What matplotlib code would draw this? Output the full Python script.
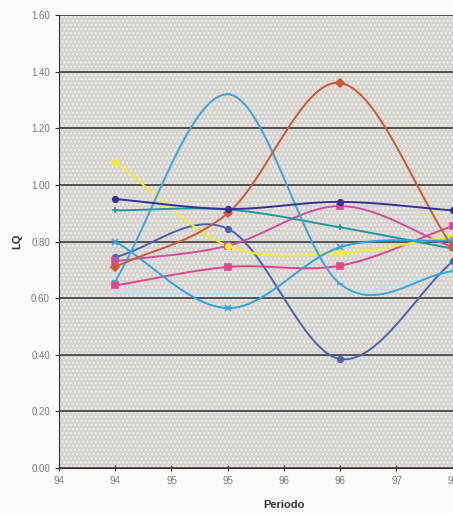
import numpy as np
import matplotlib
matplotlib.use('Agg')
import matplotlib.pyplot as plt
from matplotlib.patches import Rectangle
from matplotlib.ticker import MultipleLocator, FuncFormatter

# periodos y cocientes de localizacion (LQ) por serie
periodo = [94, 95, 96, 97]
lq_navy = [0.95, 0.915, 0.94, 0.91]
lq_naranja = [0.71, 0.90, 1.36, 0.78]
lq_celeste = [0.66, 1.32, 0.65, 0.695]
lq_celeste_x = [0.80, 0.565, 0.78, 0.805]
lq_verde = [0.91, 0.913, 0.85, 0.775]
lq_amarillo = [1.08, 0.785, 0.76, 0.82]
lq_rosa = [0.73, 0.785, 0.925, 0.78]
lq_rosa2 = [0.645, 0.71, 0.715, 0.855]
lq_azul = [0.745, 0.845, 0.385, 0.73]
lq_claro = [0.62, 0.615, 0.615, 0.69]

series = [
    (lq_claro, '#b8e2f4', None),
    (lq_azul, '#4a63b0', 'o'),
    (lq_rosa2, '#e0468f', 's'),
    (lq_rosa, '#cf4f9e', 's'),
    (lq_amarillo, '#f5ee2a', 'o'),
    (lq_verde, '#1f9aa0', '+'),
    (lq_celeste_x, '#2fa6dc', 'x'),
    (lq_celeste, '#3aa7db', '_'),
    (lq_naranja, '#cf5a32', 'D'),
    (lq_navy, '#35348f', 'o'),
]


def suavizar(x, y, n=40):
    # curva suavizada tipo Catmull-Rom entre los puntos
    x = np.asarray(x, float)
    y = np.asarray(y, float)
    px = np.concatenate([[2 * x[0] - x[1]], x, [2 * x[-1] - x[-2]]])
    py = np.concatenate([[2 * y[0] - y[1]], y, [2 * y[-1] - y[-2]]])
    xs, ys = [], []
    t = np.linspace(0, 1, n)
    for i in range(1, len(px) - 2):
        for p, out in ((px, xs), (py, ys)):
            p0, p1, p2, p3 = p[i - 1], p[i], p[i + 1], p[i + 2]
            out.append(0.5 * ((2 * p1) + (-p0 + p2) * t
                              + (2 * p0 - 5 * p1 + 4 * p2 - p3) * t ** 2
                              + (-p0 + 3 * p1 - 3 * p2 + p3) * t ** 3))
    return np.concatenate(xs), np.concatenate(ys)


fig = plt.figure(figsize=(4.53, 5.13), dpi=100)
fig.patch.set_facecolor('#fbfbfa')
ax = fig.add_axes([0.1302, 0.0877, 0.9934, 0.883])
ax.set_facecolor('#d6d2ce')
ax.add_patch(Rectangle((0, 0), 1, 1, transform=ax.transAxes, fill=False,
                       hatch='....', edgecolor='#f4f2f0', linewidth=0, zorder=0.5))
plt.rcParams['hatch.linewidth'] = 0.6

for vals, color, mk in series:
    sx, sy = suavizar(periodo, vals)
    ax.plot(sx, sy, color=color, lw=1.4, zorder=3)
    if mk:
        ax.plot(periodo, vals, ls='none', marker=mk, ms=4, color=color,
                mew=1.2, zorder=4)

ax.set_xlim(93.5, 97.5)
ax.set_ylim(0, 1.6)
ax.yaxis.set_major_locator(MultipleLocator(0.2))
ax.xaxis.set_major_locator(MultipleLocator(0.5))
ax.yaxis.set_major_formatter(FuncFormatter(lambda v, p: '%.2f' % v))
ax.xaxis.set_major_formatter(FuncFormatter(lambda v, p: '%d' % int(np.floor(v + 0.5))))
ax.grid(axis='y', color='#2e2e2e', lw=1.1, zorder=1)
ax.set_axisbelow(False)

for s in ['top', 'right']:
    ax.spines[s].set_visible(False)
ax.spines['left'].set_color('#333333')
ax.spines['bottom'].set_color('#333333')
ax.tick_params(axis='both', labelsize=7, colors='#333333', labelcolor='#777777',
               length=3, width=0.8)
ax.tick_params(axis='x', direction='inout', length=5, pad=3)
for lab in ax.get_xticklabels() + ax.get_yticklabels():
    lab.set_family('Liberation Sans')

ax.set_ylabel('LQ', fontsize=8, fontweight='bold', family='Liberation Sans',
              color='#333333', labelpad=6)
ax.set_xlabel('Periodo', fontsize=8, fontweight='bold', family='Liberation Sans',
              color='#333333', labelpad=10)

fig.savefig('out.png', dpi=100)
